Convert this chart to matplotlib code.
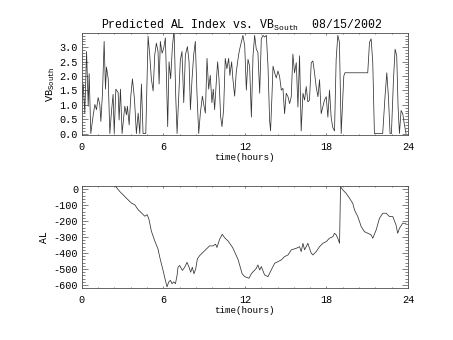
import numpy as np
import matplotlib
matplotlib.use('Agg')
import matplotlib.pyplot as plt
from matplotlib.ticker import MultipleLocator, FormatStrFormatter

plt.rcParams['font.family'] = ['Liberation Mono', 'DejaVu Sans']
plt.rcParams['mathtext.fontset'] = 'custom'
plt.rcParams['mathtext.rm'] = 'Liberation Mono'
plt.rcParams['axes.unicode_minus'] = False

# VB south (top panel), hours / value
vb_t = [0.00, 0.12, 0.24, 0.37, 0.49, 0.56, 0.68, 0.86, 0.98, 1.10, 1.22, 1.34, 1.42, 1.54,
        1.66, 1.76, 1.83, 1.96, 2.08, 2.20, 2.32, 2.40, 2.52, 2.69, 2.76, 2.86, 2.98, 3.18,
        3.30, 3.37, 3.50, 3.62, 3.74, 3.89, 4.03, 4.16, 4.28, 4.40, 4.52, 4.72, 4.89, 5.01,
        5.13, 5.26, 5.38, 5.50, 5.62, 5.70, 5.79, 5.92, 6.04, 6.16, 6.23, 6.33, 6.43, 6.55,
        6.67, 6.80, 6.92, 7.02, 7.11, 7.26, 7.38, 7.51, 7.63, 7.78, 7.90, 8.00, 8.12, 8.24,
        8.36, 8.48, 8.61, 8.73, 8.88, 9.00, 9.10, 9.22, 9.34, 9.46, 9.58, 9.68, 9.78, 9.90,
        10.00, 10.10, 10.22, 10.32, 10.44, 10.56, 10.68, 10.81, 10.90, 11.03, 11.12, 11.25,
        11.37, 11.54, 11.62, 11.86, 11.99, 12.11, 12.23, 12.35, 12.48, 12.60, 12.72, 12.84,
        12.96, 13.09, 13.21, 13.33, 13.45, 13.58, 13.70, 13.82, 13.89, 13.99, 14.07, 14.19,
        14.31, 14.43, 14.55, 14.68, 14.80, 14.92, 15.04, 15.17, 15.29, 15.41, 15.53, 15.65,
        15.78, 15.90, 16.02, 16.14, 16.27, 16.39, 16.51, 16.63, 16.75, 16.88, 17.00, 17.12,
        17.24, 17.37, 17.49, 17.61, 17.73, 17.85, 17.98, 18.10, 18.22, 18.34, 18.46, 18.59,
        18.71, 18.83, 18.95, 19.08, 19.20, 19.27, 19.35, 21.03, 21.16, 21.28, 21.40, 21.52,
        22.13, 22.30, 22.43, 22.55, 22.67, 22.77, 22.92, 23.04, 23.16, 23.26, 23.36, 23.48,
        23.60, 23.72, 23.84]
vb_v = [1.07, 1.72, 0.71, 2.85, 0.95, 2.08, 0.00, 0.65, 1.01, 0.83, 1.25, 1.01, 0.42, 1.42,
        3.20, 1.54, 2.31, 1.90, 0.00, 0.77, 1.36, 0.00, 1.54, 1.42, 0.47, 1.54, 0.00, 0.95,
        0.65, 0.95, 0.30, 1.30, 1.90, 1.19, 0.00, 0.71, 0.00, 1.72, 0.00, 0.00, 3.38, 2.73,
        1.90, 1.48, 2.73, 3.14, 2.85, 1.72, 3.20, 2.79, 2.97, 3.32, 2.14, 0.24, 2.49, 1.90,
        2.97, 3.62, 1.30, 0.00, 0.95, 2.55, 2.85, 1.07, 2.73, 3.02, 2.49, 0.83, 1.90, 2.73,
        3.20, 1.42, 0.00, 0.71, 1.30, 0.95, 0.71, 2.61, 1.54, 2.02, 1.07, 1.54, 0.83, 1.78,
        2.49, 1.90, 0.59, 0.24, 0.83, 2.61, 2.25, 2.61, 2.02, 2.49, 1.90, 1.30,
        2.14, 2.73, 2.93, 3.41, 3.05, 1.51, 2.58, 2.34, 0.57, 2.70, 3.41, 2.93,
        2.82, 1.40, 3.29, 3.41, 3.35, 3.41, 2.34, 0.45, 0.09, 1.28, 2.34, 2.11,
        1.93, 2.17, 1.99, 1.51, 1.57, 0.69, 1.40, 1.28, 1.04, 1.28, 2.76, 2.11,
        2.46, 0.92, 2.70, 0.09, 1.40, 1.16, 1.63, 1.10, 1.16, 2.46, 2.52, 2.11,
        1.63, 1.28, 1.87, 0.69, 0.92, 1.16, 1.28, 0.57, 1.51, 0.57, 0.21, 0.09,
        2.58, 3.41, 3.17, 0.00, 1.28, 1.99, 2.11, 2.11, 3.17, 3.29, 2.46, 0.00,
        0.00, 1.28, 2.11, 1.28, 0.00, 0.00, 1.87, 2.93, 2.70, 0.92, 0.00, 0.80,
        0.69, 0.33, 0.00]

# AL index (bottom panel)
al_t = [2.52, 2.81, 3.06, 3.30, 3.55, 3.67, 3.91, 4.16, 4.40, 4.65, 4.82, 4.96, 5.13, 5.38,
        5.62, 5.75, 5.99, 6.19, 6.28, 6.41, 6.53, 6.65, 6.77, 6.90, 7.02, 7.09, 7.21, 7.41,
        7.58, 7.75, 7.90, 8.02, 8.14, 8.26, 8.39, 8.51, 8.68, 8.92, 9.17, 9.41, 9.66, 9.85,
        9.95, 10.15, 10.34, 10.51, 10.76, 11.10, 11.50, 11.80, 12.00, 12.30, 12.50, 12.84,
        12.96, 13.09, 13.21, 13.45, 13.70, 13.94, 14.19, 14.43, 14.68, 14.92, 15.17, 15.41,
        15.78, 16.02, 16.14, 16.27, 16.39, 16.63, 16.75, 16.88, 17.00, 17.24, 17.49, 17.73,
        17.98, 18.22, 18.47, 18.59, 18.71, 18.83, 18.96, 19.03, 19.20, 19.44, 19.69, 19.93,
        20.06, 20.30, 20.55, 20.79, 21.04, 21.28, 21.40, 21.65, 21.89, 22.14, 22.38, 22.63,
        22.87, 23.11, 23.23, 23.36, 23.60, 23.84]
al_v = [17, -14, -35, -56, -77, -87, -97, -128, -148, -169, -159, -190, -262, -324,
        -375, -427, -509, -581, -612, -581, -571, -592, -581, -592, -540, -489, -478, -509,
        -489, -458, -489, -520, -489, -530, -499, -437, -416, -396, -375, -355, -355, -344,
        -365, -313, -282, -303, -324, -365, -440, -530, -548, -558, -527, -496,
        -475, -506, -485, -537, -548, -506, -464, -454, -443, -422, -412, -380,
        -370, -360, -391, -339, -380, -339, -370, -401, -412, -391, -360, -339,
        -328, -307, -297, -276, -286, -307, -339, 17, -4, -25, -56, -88,
        -130, -171, -234, -266, -276, -286, -307, -255, -182, -150, -150, -171,
        -171, -224, -276, -245, -213, -213]

fig = plt.figure(figsize=(4.53, 3.4), dpi=100)
ax1 = fig.add_axes([0.180, 0.603, 0.721, 0.299])
ax2 = fig.add_axes([0.180, 0.154, 0.721, 0.300])

line_kw = dict(color='0.2', lw=0.55)
ax1.plot(vb_t, vb_v, **line_kw)
ax2.plot(al_t, al_v, **line_kw)

ax1.set_ylim(-0.05, 3.48)
ax1.yaxis.set_major_locator(MultipleLocator(0.5))
ax1.yaxis.set_minor_locator(MultipleLocator(0.1))
ax1.yaxis.set_major_formatter(FormatStrFormatter('%.1f'))
ax1.set_ylabel(r'VB$_{\rm South}$', fontsize=7.5, labelpad=2)
ax1.set_title(r'Predicted AL Index vs. VB$_{\rm South}$  08/15/2002', fontsize=8.3, pad=3,
              x=0.49)

ax2.set_ylim(-617, 23)
ax2.yaxis.set_major_locator(MultipleLocator(100))
ax2.yaxis.set_minor_locator(MultipleLocator(20))
ax2.set_ylabel('AL', fontsize=7, labelpad=3)

for ax in (ax1, ax2):
    ax.set_xlim(0, 24)
    ax.xaxis.set_major_locator(MultipleLocator(6))
    ax.xaxis.set_minor_locator(MultipleLocator(1.2))
    ax.set_xlabel('time(hours)', fontsize=6.7, labelpad=1)
    ax.tick_params(which='both', direction='in', top=True, right=True, labelsize=7.3,
                   width=0.5, color='0.3')
    ax.tick_params(axis='y', which='major', length=4.5, pad=2.5)
    ax.tick_params(axis='y', which='minor', length=2.3)
    ax.tick_params(axis='x', which='major', length=1.5, pad=5)
    ax.tick_params(axis='x', which='minor', length=0.8)
    for s in ax.spines.values():
        s.set_linewidth(0.6)
        s.set_color('0.3')

fig.savefig('out.png', dpi=100)
